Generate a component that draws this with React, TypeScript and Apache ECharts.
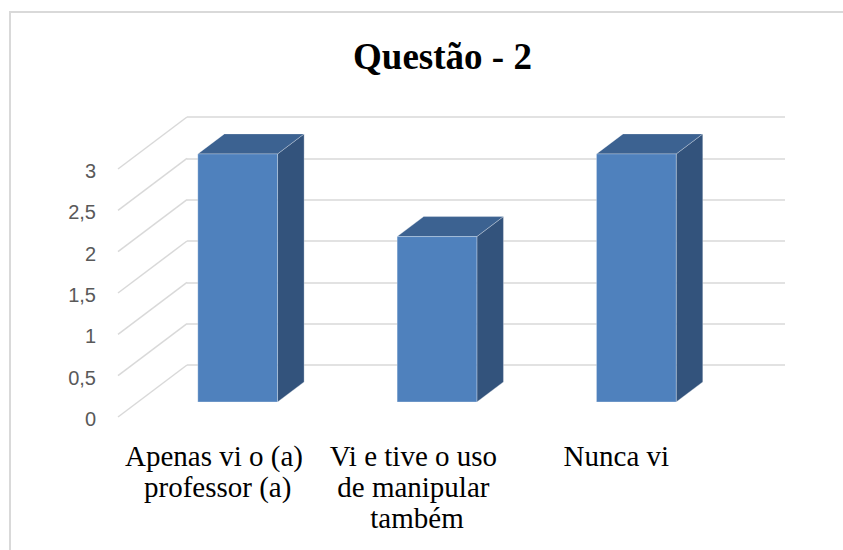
import { useEffect, useRef } from "react";
import * as echarts from "echarts";

const titleText = "Questão - 2";
const categories = [
  "Apenas vi o (a) professor (a)",
  "Vi e tive o uso de manipular também",
  "Nunca vi",
];
const values = [3, 2, 3];
const yTicks = [0, 0.5, 1, 1.5, 2, 2.5, 3];

const FRONT = { left: 118, top: 169, width: 598, height: 248 };
const DEPTH = { x: 69, y: -52 };
const BAR_DEPTH = [0.29, 0.675];
const BAR_WIDTH = 0.4;
const C_FRONT = "#4f81bd";
const C_TOP = "#3c6291";
const C_SIDE = "#33537c";
const GRID_C = "#d9d9d9";
const SERIF = "Liberation Serif";
const SANS = "Liberation Sans";

const fmtTick = (v: number) => String(v).replace(".", ",");

export default function App() {
  const ref = useRef<HTMLDivElement>(null);
  useEffect(() => {
    const chart = echarts.init(ref.current!, null, { renderer: "svg" });

    // side-wall gridlines + value labels at their front ends
    const diag = (_p: any, api: any) => {
      const v = api.value(1);
      const p = api.coord([0, v]);
      const x = p[0] - api.size([1, 0])[0] / 2;
      return {
        type: "group",
        children: [
          {
            type: "line",
            shape: { x1: x, y1: p[1], x2: x + DEPTH.x, y2: p[1] + DEPTH.y },
            style: { stroke: GRID_C, lineWidth: 1.5 },
          },
          {
            type: "text",
            x: x - 22,
            y: p[1] + 2,
            style: {
              text: fmtTick(v),
              font: "20px " + SANS,
              fill: "#595959",
              textAlign: "right",
              textVerticalAlign: "middle",
            },
          },
        ],
      };
    };

    const bar = (_p: any, api: any) => {
      const ci = api.value(0);
      const v = api.value(1);
      const top = api.coord([ci, v]);
      const base = api.coord([ci, 0]);
      const w = api.size([1, 0])[0] * BAR_WIDTH;
      const [f0, f1] = BAR_DEPTH;
      const ox = DEPTH.x * f0;
      const oy = DEPTH.y * f0;
      const dx = DEPTH.x * (f1 - f0);
      const dy = DEPTH.y * (f1 - f0);
      const xl = top[0] - w / 2 + ox;
      const xr = top[0] + w / 2 + ox;
      const yt = top[1] + oy;
      const yb = base[1] + oy;
      const edge = { stroke: "rgba(255,255,255,0.35)", lineWidth: 0.8 };
      return {
        type: "group",
        children: [
          {
            type: "polygon",
            shape: { points: [[xr, yt], [xr + dx, yt + dy], [xr + dx, yb + dy], [xr, yb]] },
            style: { fill: C_SIDE, ...edge },
          },
          {
            type: "polygon",
            shape: { points: [[xl, yt], [xr, yt], [xr + dx, yt + dy], [xl + dx, yt + dy]] },
            style: { fill: C_TOP, ...edge },
          },
          {
            type: "rect",
            shape: { x: xl, y: yt, width: xr - xl, height: yb - yt },
            style: { fill: C_FRONT, ...edge },
          },
          {
            type: "text",
            style: {
              legacy: false,
              text: categories[ci],
              x: base[0],
              y: base[1] + 23,
              font: "29px " + SERIF,
              fill: "#000000",
              align: "center",
              verticalAlign: "top",
              width: 190,
              overflow: "break",
              lineHeight: 31,
            },
          },
        ],
      };
    };

    const yBase = {
      type: "value",
      min: 0,
      max: 3,
      interval: 0.5,
      axisLine: { show: false },
      axisTick: { show: false },
    };

    chart.setOption({
      animation: false,
      grid: [
        { left: FRONT.left, top: FRONT.top, width: FRONT.width, height: FRONT.height },
        {
          left: FRONT.left + DEPTH.x,
          top: FRONT.top + DEPTH.y,
          width: FRONT.width,
          height: FRONT.height,
        },
      ],
      xAxis: [
        {
          type: "category",
          gridIndex: 0,
          data: categories,
          axisLine: { show: false },
          axisTick: { show: false },
          axisLabel: { show: false },
        },
        { type: "category", gridIndex: 1, data: categories, show: false },
      ],
      yAxis: [
        {
          ...yBase,
          gridIndex: 0,
          splitLine: { show: false },
          axisLabel: { show: false },
        },
        {
          ...yBase,
          gridIndex: 1,
          splitLine: { show: true, lineStyle: { color: GRID_C, width: 1.5 } },
          axisLabel: { show: false },
        },
      ],
      series: [
        {
          type: "custom",
          xAxisIndex: 0,
          yAxisIndex: 0,
          silent: true,
          data: yTicks.map((v) => [0, v]),
          renderItem: diag,
        },
        {
          type: "custom",
          xAxisIndex: 0,
          yAxisIndex: 0,
          data: values.map((v, i) => [i, v]),
          renderItem: bar,
        },
      ],
      graphic: [
        {
          type: "rect",
          silent: true,
          z: -10,
          shape: { x: 10, y: 12, width: 1000, height: 1000 },
          style: { fill: "none", stroke: GRID_C, lineWidth: 2 },
        },
        {
          type: "text",
          silent: true,
          x: 442.5,
          y: 56,
          style: {
            text: titleText,
            font: "bold 37px " + SERIF,
            fill: "#000000",
            textAlign: "center",
            textVerticalAlign: "middle",
          },
        },
      ],
    });
    return () => chart.dispose();
  }, []);
  return (
    <div
      ref={ref}
      style={{ position: "fixed", left: 0, top: 0, width: 843, height: 550, background: "#ffffff" }}
    />
  );
}
